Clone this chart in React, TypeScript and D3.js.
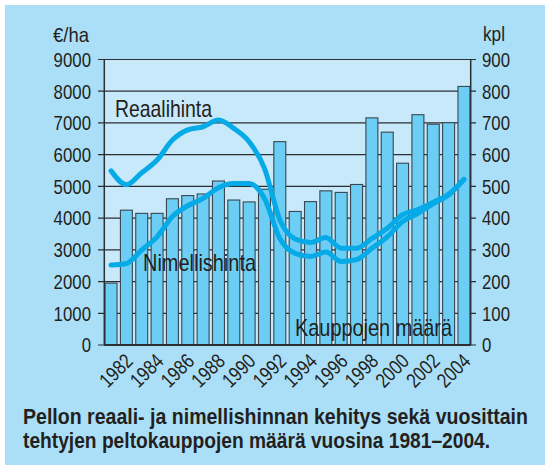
import React, { useLayoutEffect, useRef, useState } from "react";
import * as d3 from "d3";

const years = [1981,1982,1983,1984,1985,1986,1987,1988,1989,1990,1991,1992,1993,1994,1995,1996,1997,1998,1999,2000,2001,2002,2003,2004];
const kauppojenMaara = [195,425,415,415,461,471,476,517,457,451,491,641,421,452,486,481,506,716,671,573,726,696,701,815];
const reaalihinta = [5490,5050,5430,5830,6460,6780,6880,7090,6830,6410,5570,3950,3340,3230,3390,3050,3050,3360,3680,4110,4270,4500,4750,5220];
const nimellishinta = [2520,2570,3000,3410,4050,4390,4620,4960,5090,5090,4620,3360,2890,2790,2930,2630,2690,3050,3410,3890,4150,4460,4730,5220];
const leftTicks = [0,1000,2000,3000,4000,5000,6000,7000,8000,9000];
const rightTicks = [0,100,200,300,400,500,600,700,800,900];
const yearLabels = [1982,1984,1986,1988,1990,1992,1994,1996,1998,2000,2002,2004];

const FONT = "'Liberation Sans', Arial, Helvetica, sans-serif";
const INK = "#231f20";
const SX = 0.82;

function FitText(props: { x: number; y: number; width: number; size: number; bold?: boolean; children: string }) {
  const ref = useRef<SVGTextElement>(null);
  const [s, setS] = useState(SX);
  useLayoutEffect(() => {
    if (ref.current) {
      const n = ref.current.getComputedTextLength();
      if (n > 0) setS(props.width / n);
    }
  }, [props.width, props.children]);
  return (
    <text ref={ref} transform={`translate(${props.x},${props.y}) scale(${s},1)`} fontSize={props.size}
      fontWeight={props.bold ? "bold" : "normal"} fill={INK}>{props.children}</text>
  );
}

export default function App() {
  const W = 545, H = 469;
  const left = 104.3, right = 470.7, top = 59.5, bottom = 345;
  const x = d3.scaleBand<number>().domain(years).range([left, right]).paddingInner(0.22).paddingOuter(0.05);
  const yP = d3.scaleLinear().domain([0, 9000]).range([bottom, top]);
  const yK = d3.scaleLinear().domain([0, 900]).range([bottom, top]);
  const cx = (yr: number) => (x(yr) as number) + x.bandwidth() / 2;
  const mkLine = (vals: number[]) =>
    d3.line<number>().x((_, i) => cx(years[i])).y((d) => yP(d)).curve(d3.curveMonotoneX)(vals) as string;
  const dark = "#2b2f33";
  const lineColor = "#05aae6";
  const tickSize = 20.5;
  return (
    <svg width={W} height={H} style={{ position: "absolute", left: 0, top: 0 }} fontFamily={FONT}>
      <rect x={0} y={0} width={W} height={H} fill="#ffffff" />
      <rect x={5} y={5} width={540} height={460} fill="#abdff7" />
      <rect x={left} y={top} width={right - left} height={bottom - top} fill="#c7e9f9" />
      {leftTicks.map((t) => (
        <line key={"g" + t} x1={98} x2={476} y1={yP(t)} y2={yP(t)} stroke={dark} strokeWidth={1.2} />
      ))}
      {kauppojenMaara.map((v, i) => (
        <rect key={"b" + i} x={x(years[i])} y={yK(v)} width={x.bandwidth()} height={bottom - yK(v)}
          fill="#6ccef5" stroke="#3a4650" strokeWidth={1.1} />
      ))}
      <line x1={left} x2={left} y1={top} y2={bottom} stroke={dark} strokeWidth={1.5} />
      <line x1={right} x2={right} y1={top} y2={bottom} stroke={dark} strokeWidth={1.5} />
      <line x1={left} x2={right} y1={bottom} y2={bottom} stroke={dark} strokeWidth={2} />
      <path d={mkLine(reaalihinta)} fill="none" stroke={lineColor} strokeWidth={5} strokeLinejoin="round" strokeLinecap="round" />
      <path d={mkLine(nimellishinta)} fill="none" stroke={lineColor} strokeWidth={5} strokeLinejoin="round" strokeLinecap="round" />
      {leftTicks.map((t) => (
        <text key={"l" + t} transform={`translate(91,${yP(t)}) scale(${SX},1)`} dy="0.36em" textAnchor="end"
          fontSize={tickSize} fill={INK}>{t}</text>
      ))}
      {rightTicks.map((t) => (
        <text key={"r" + t} transform={`translate(482,${yK(t)}) scale(${SX},1)`} dy="0.36em" textAnchor="start"
          fontSize={tickSize} fill={INK}>{t}</text>
      ))}
      <FitText x={53} y={42} width={36} size={tickSize}>€/ha</FitText>
      <FitText x={483} y={41} width={22} size={tickSize}>kpl</FitText>
      {yearLabels.map((yr) => (
        <text key={"y" + yr} transform={`translate(${cx(yr) + 7.8},${bottom + 17.4}) rotate(-45) scale(${SX},1)`}
          textAnchor="end" fontSize={tickSize} fill={INK}>{yr}</text>
      ))}
      <FitText x={115} y={117} width={97} size={23}>Reaalihinta</FitText>
      <FitText x={143} y={271} width={113} size={23}>Nimellishinta</FitText>
      <FitText x={295} y={336} width={157} size={23}>Kauppojen määrä</FitText>
      <FitText x={23} y={424.3} width={505} size={22.5} bold>Pellon reaali- ja nimellishinnan kehitys sekä vuosittain</FitText>
      <FitText x={23} y={447.5} width={467} size={22.5} bold>tehtyjen peltokauppojen määrä vuosina 1981–2004.</FitText>
    </svg>
  );
}
